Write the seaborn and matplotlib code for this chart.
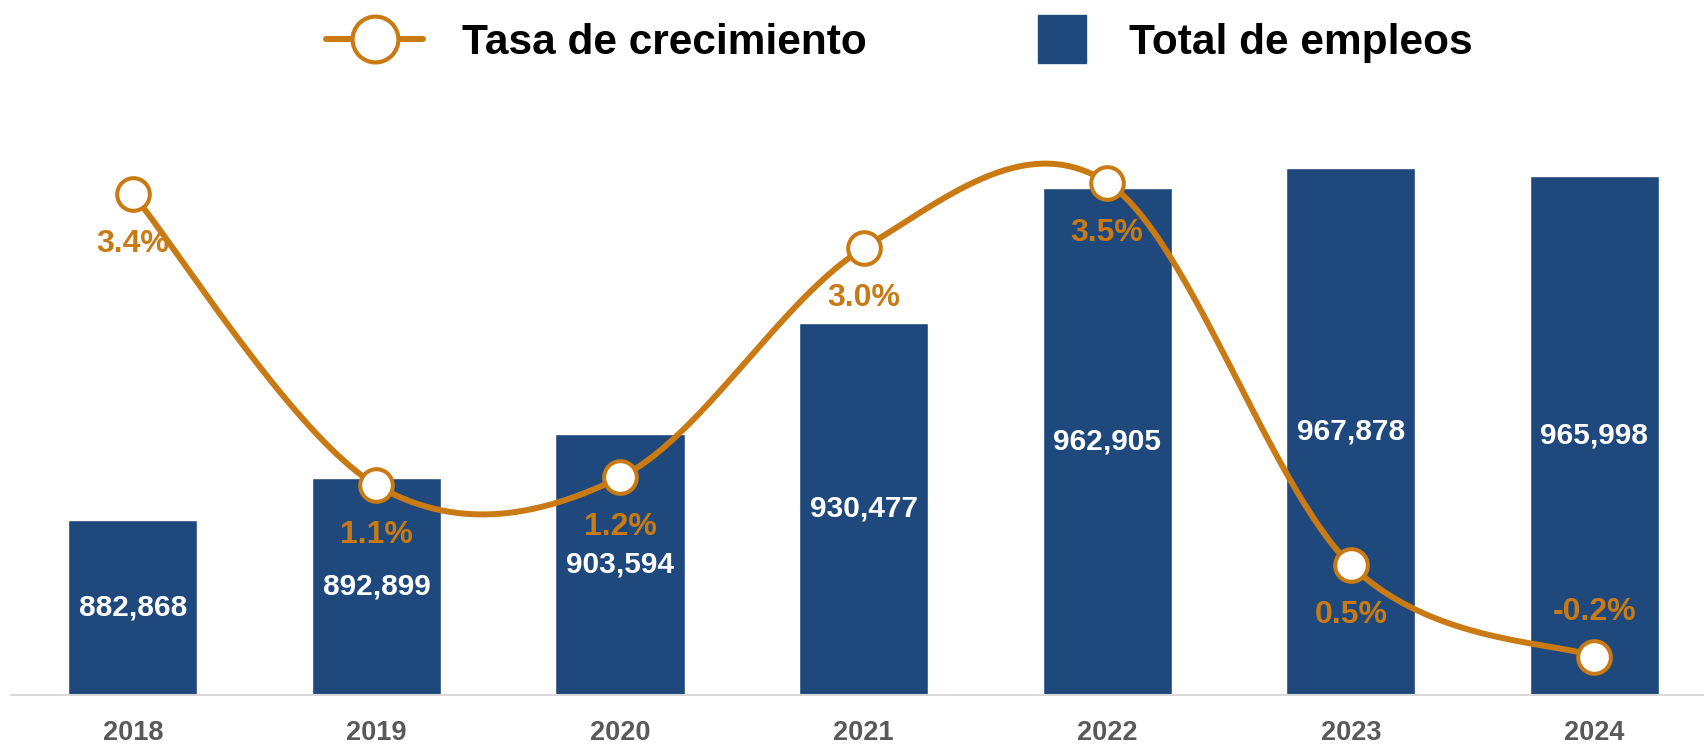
import numpy as np
import pandas as pd
import matplotlib
matplotlib.use("Agg")
import matplotlib.pyplot as plt
from matplotlib.lines import Line2D
import seaborn as sns

years = ["2018", "2019", "2020", "2021", "2022", "2023", "2024"]
total_empleos = [882868, 892899, 903594, 930477, 962905, 967878, 965998]
tasa = [3.4, 1.14, 1.2, 2.98, 3.49, 0.52, -0.19]
tasa_labels = ["3.4%", "1.1%", "1.2%", "3.0%", "3.5%", "0.5%", "-0.2%"]

BLUE = "#1F497C"
ORANGE = "#C97A12"
GRAY = "#595959"

sns.set_style("white")
plt.rcParams["font.family"] = ["Liberation Sans", "DejaVu Sans"]

df = pd.DataFrame({"year": years, "total": total_empleos, "tasa": tasa})

fig = plt.figure(figsize=(17.04, 7.45), dpi=100)
ax = fig.add_axes([11 / 1704, 0.0671, 1693 / 1704, 0.7852])

sns.barplot(data=df, x="year", y="total", color=BLUE, saturation=1, width=0.53, ax=ax)
ax.set_xlim(-0.5, 6.45)
ax.set_ylim(840600, 981800)
ax.bar_label(ax.containers[0], labels=[f"{v:,}" for v in total_empleos],
             label_type="center", color="white", fontsize=21.5, fontweight="bold")

ax.set_xlabel("")
ax.set_ylabel("")
ax.set_yticks([])
ax.tick_params(axis="x", length=0, pad=18, labelsize=19.5, labelcolor=GRAY)
for t in ax.get_xticklabels():
    t.set_fontweight("bold")
for s in ["top", "left", "right"]:
    ax.spines[s].set_visible(False)
ax.spines["bottom"].set_color("#D9D9D9")
ax.spines["bottom"].set_linewidth(1.5)

# smoothed growth-rate line (Catmull-Rom through the points)
ax2 = ax.twinx()
xs = np.arange(len(tasa), dtype=float)
ys = np.array(tasa)
px = np.concatenate([[xs[0]], xs, [xs[-1]]])
py = np.concatenate([[ys[0]], ys, [ys[-1]]])
cx, cy = [], []
t = np.linspace(0, 1, 60)
for i in range(1, len(px) - 2):
    p0, p1, p2, p3 = [np.array([px[j], py[j]]) for j in (i - 1, i, i + 1, i + 2)]
    c1 = p1 + (p2 - p0) / 6
    c2 = p2 - (p3 - p1) / 6
    seg = ((1 - t) ** 3)[:, None] * p1 + (3 * (1 - t) ** 2 * t)[:, None] * c1 \
        + (3 * (1 - t) * t ** 2)[:, None] * c2 + (t ** 3)[:, None] * p2
    cx.extend(seg[:, 0])
    cy.extend(seg[:, 1])
ax2.plot(cx, cy, color=ORANGE, lw=4.3, solid_capstyle="round", zorder=3)
ax2.plot(xs, ys, linestyle="none", marker="o", ms=23.5, mfc="white",
         mec=ORANGE, mew=2.9, zorder=4)
ax2.set_ylim(-0.489, 4.053)
ax2.set_yticks([])
for s in ["top", "left", "right", "bottom"]:
    ax2.spines[s].set_visible(False)

for i, (v, lab) in enumerate(zip(tasa, tasa_labels)):
    off = 32 if v < 0 else -36
    ax2.annotate(lab, (i, v), xytext=(0, off), textcoords="offset points",
                 ha="center", va="center", color=ORANGE, fontsize=23,
                 fontweight="bold", zorder=5)

# legend: two pieces so each handle gets its own length
leg_prop = {"size": 30.5, "weight": "bold"}
h_line = Line2D([0], [0], color=ORANGE, lw=4.3, marker="o", ms=33, mfc="white",
                mec=ORANGE, mew=3)
h_bar = Line2D([0], [0], color=BLUE, lw=0, marker="s", ms=35)
leg1 = fig.legend([h_line], ["Tasa de crecimiento"], loc="center left",
                  bbox_to_anchor=(326 / 1704, 0.942), frameon=False, prop=leg_prop,
                  handlelength=2.3, handletextpad=0.9, borderpad=0, borderaxespad=0,
                  labelcolor="black")
leg2 = fig.legend([h_bar], ["Total de empleos"], loc="center left",
                  bbox_to_anchor=(1038 / 1704, 0.942), frameon=False, prop=leg_prop,
                  handlelength=1.15, handletextpad=1.0, borderpad=0, borderaxespad=0,
                  labelcolor="black")

fig.savefig("out.png", dpi=100)
